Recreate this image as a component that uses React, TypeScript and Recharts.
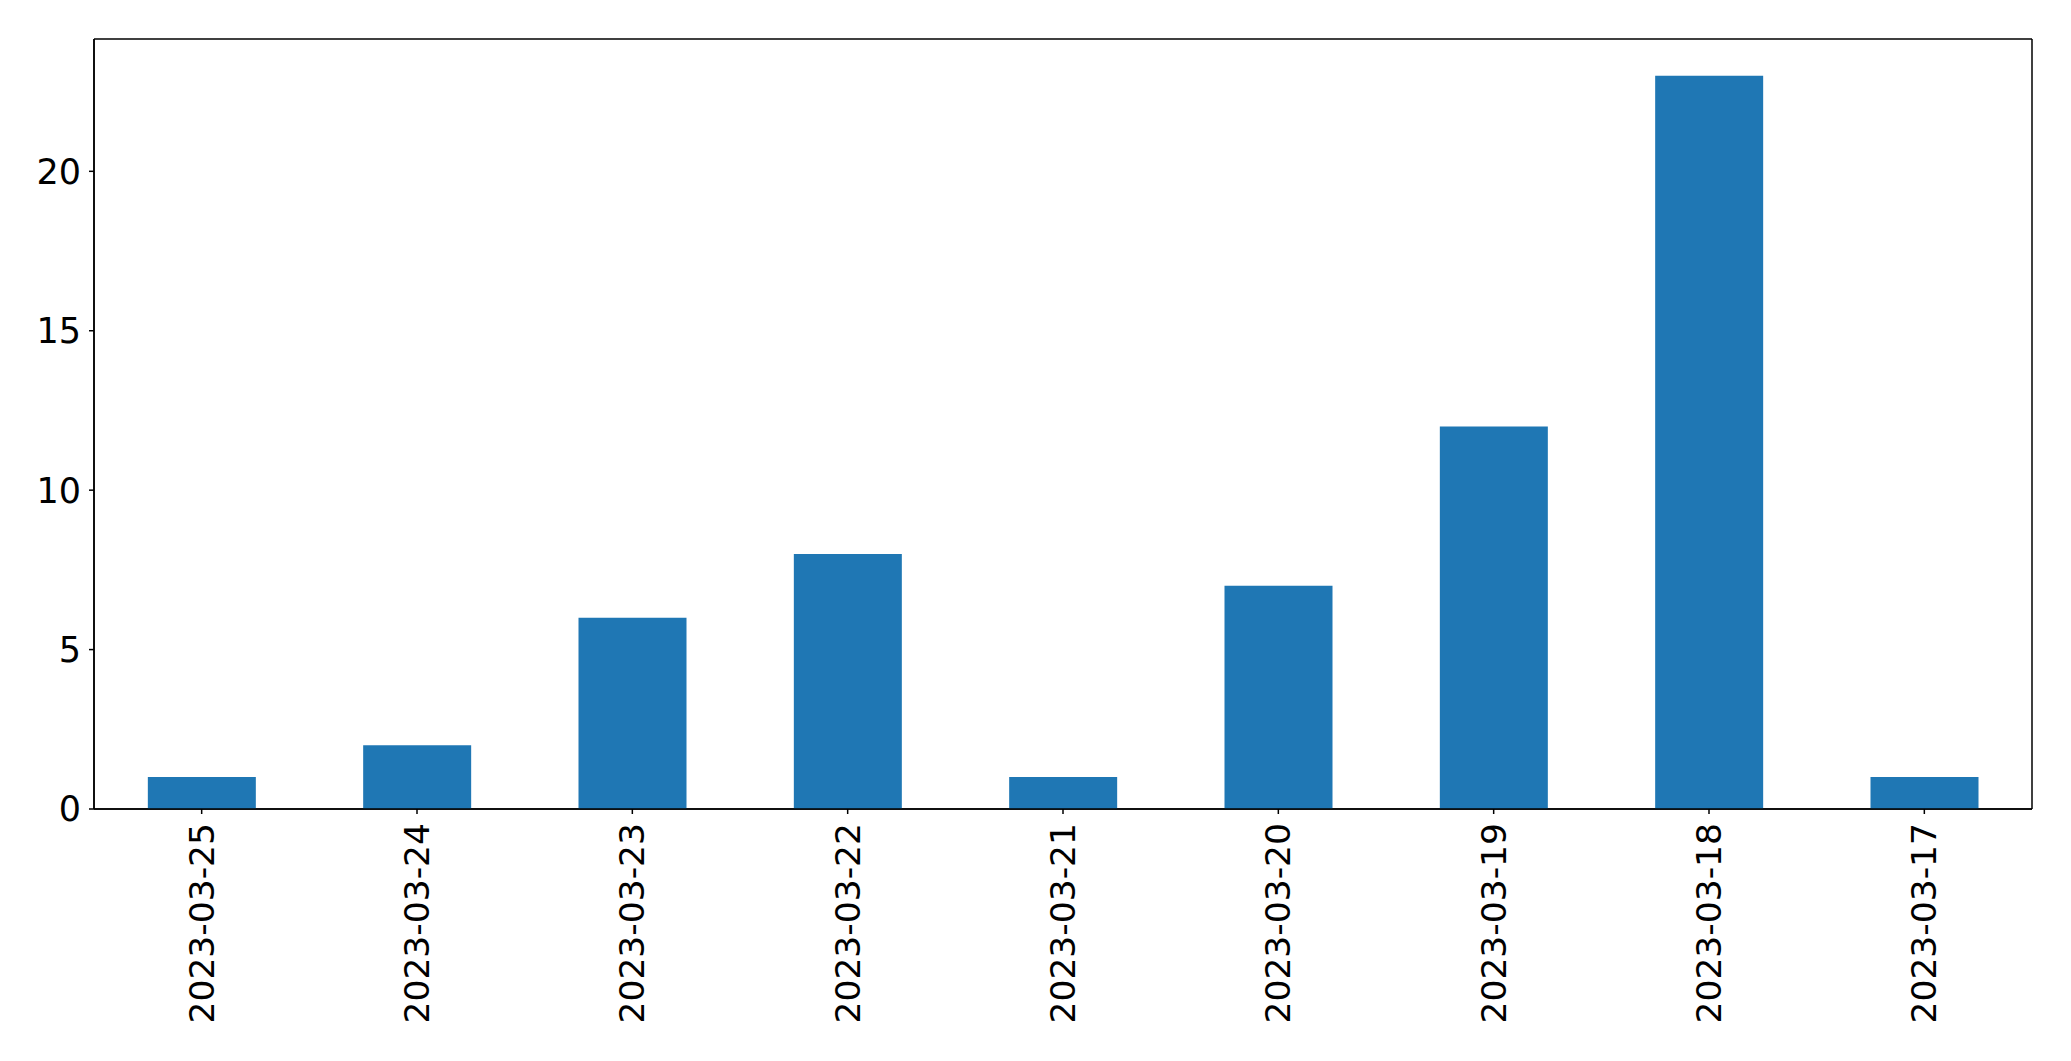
import { BarChart, Bar, XAxis, YAxis, CartesianGrid } from "recharts";

const dates = [
  "2023-03-25",
  "2023-03-24",
  "2023-03-23",
  "2023-03-22",
  "2023-03-21",
  "2023-03-20",
  "2023-03-19",
  "2023-03-18",
  "2023-03-17",
];
const counts = [1, 2, 6, 8, 1, 7, 12, 23, 1];
const yTicks = [0, 5, 10, 15, 20];

const data = dates.map((d, i) => ({ date: d, count: counts[i] }));

const FONT = "'DejaVu Sans', sans-serif";

function DateTick(props: any) {
  const { x, y, payload } = props;
  return (
    <text
      x={x}
      y={y}
      transform={`rotate(-90, ${x}, ${y})`}
      textAnchor="end"
      dominantBaseline="central"
      fontSize={34.5}
      fontFamily={FONT}
      fill="#000"
    >
      {payload.value}
    </text>
  );
}

// frame around the plot area, like matplotlib's spines
const frameX = ({ offset }: any) => [offset.left, offset.left + offset.width];
const frameY = ({ offset }: any) => [offset.top, offset.top + offset.height];

export default function App() {
  return (
    <div style={{ position: "absolute", left: 0, top: 0, width: 2071, height: 1061, background: "#fff" }}>
      <BarChart
        width={2071}
        height={1061}
        data={data}
        margin={{ top: 39, right: 39, bottom: 0, left: 0 }}
        barCategoryGap="25%"
      >
        <CartesianGrid
          stroke="#000"
          strokeWidth={1.5}
          verticalCoordinatesGenerator={frameX}
          horizontalCoordinatesGenerator={frameY}
        />
        <XAxis
          dataKey="date"
          height={252}
          interval={0}
          tickSize={5}
          tickMargin={9}
          tick={<DateTick />}
          axisLine={{ stroke: "#000", strokeWidth: 1.5 }}
          tickLine={{ stroke: "#000", strokeWidth: 1.5 }}
        />
        <YAxis
          width={94}
          domain={[0, 24.15]}
          ticks={yTicks}
          tickSize={5}
          tickMargin={8}
          tick={{ fontSize: 35, fontFamily: FONT, fill: "#000" }}
          axisLine={{ stroke: "#000", strokeWidth: 1.5 }}
          tickLine={{ stroke: "#000", strokeWidth: 1.5 }}
        />
        <Bar dataKey="count" fill="#1f77b4" isAnimationActive={false} />
      </BarChart>
    </div>
  );
}
